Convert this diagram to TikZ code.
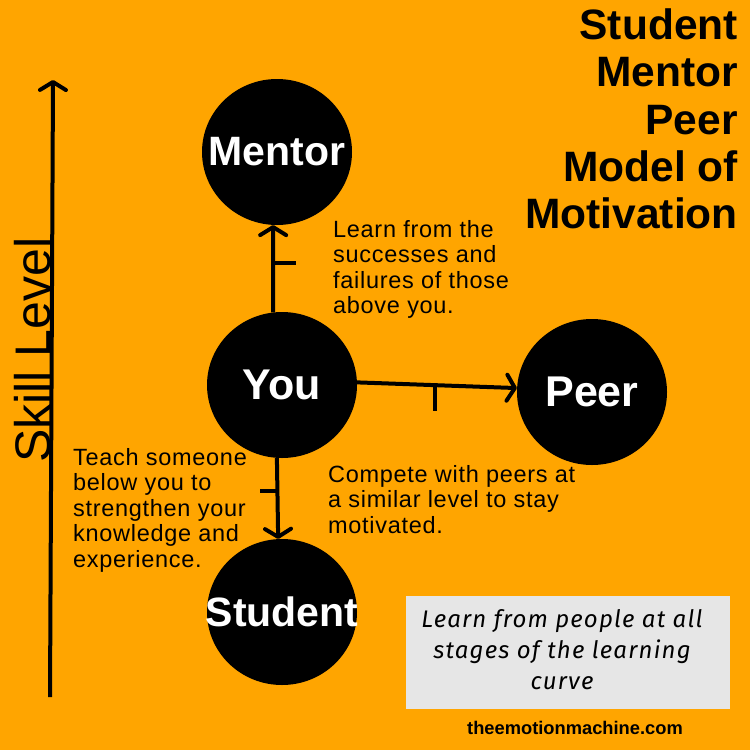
\documentclass[tikz,border=0pt]{standalone}
\usepackage{fontspec}
\setmainfont{Liberation Sans}
\newfontfamily\boxfont{Fira Sans}
\usetikzlibrary{arrows.meta,shapes.geometric}
\definecolor{bgorange}{HTML}{FFA500}
\definecolor{boxgray}{HTML}{E6E6E6}
\begin{document}
\begin{tikzpicture}[x=1pt,y=-1pt,
  bubble/.style={ellipse, fill=black, minimum width=150pt, minimum height=146pt, inner sep=0pt},
  bubbletext/.style={text=white, inner sep=0pt, font=\bfseries\fontsize{41}{41}\selectfont},
  bigbubbletext/.style={bubbletext, font=\bfseries\fontsize{43}{43}\selectfont},
  arr/.style={line width=4pt, -{Straight Barb[round,length=8pt,width=26pt]}},
  tickmark/.style={line width=4pt},
  lbl/.style={font=\fontsize{23.5}{25.5}\selectfont\addfontfeature{LetterSpace=3}, align=left, inner sep=0pt, anchor=north west},
  titletext/.style={font=\bfseries\fontsize{42.5}{47.5}\selectfont, align=right, inner sep=0pt, anchor=north east},
  boxtext/.style={font=\boxfont\itshape\fontsize{24}{31}\selectfont\addfontfeature{LetterSpace=5}, align=center, inner sep=0pt, anchor=north},
]
\useasboundingbox (0,0) rectangle (750,750);
\fill[bgorange] (0,0) rectangle (750,750);

% circles
\node[bubble, label={[bubbletext]center:Mentor}] (Mentor) at (277,152) {};
\node[bubble, label={[bigbubbletext]center:You}] (You) at (282,385) {};
\node[bubble, label={[bigbubbletext]center:Peer}] (Peer) at (592,392) {};
\node[bubble, label={[bubbletext]center:Student}] (Student) at (282,612) {};

% connectors
\draw[arr] (You.97) -- coordinate[pos=0.56] (tkM) (Mentor.267);
\draw[tickmark] (tkM) -- ++(23,0);
\draw[arr] (You.2) -- coordinate[pos=0.49] (tkP) (Peer.177);
\draw[tickmark] (tkP) -- ++(0,26);
\draw[arr] (You.266) -- coordinate[pos=0.41] (tkS) (Student.93);
\draw[tickmark] (tkS) -- ++(-17,0);

% skill level axis
\coordinate (skb) at (50,697);
\coordinate (skt) at (53,80);
\draw[arr] (skb) -- (skt);
\node[font=\fontsize{50}{50}\selectfont, rotate=90, anchor=base, inner sep=0pt] (skill) at (50,350) {Skill Level};

% title
\node[titletext] (title) at (738,8) {Student\\Mentor\\Peer\\Model of\\Motivation};

% labels
\node[lbl] (lm) at (333,220) {Learn from the\\successes and\\failures of those\\above you.};
\node[lbl] (lp) at (328,465) {Compete with peers at\\a similar level to stay\\motivated.};
\node[lbl] (ls) at (73,448) {Teach someone\\below you to\\strengthen your\\knowledge and\\experience.};

% box
\node[fill=boxgray, minimum width=324pt, minimum height=113pt, inner sep=0pt, anchor=north west] (box) at (406,596) {};
\node[boxtext] (boxt) at (562,609) {Learn from people at all\\stages of the learning\\curve};

% website
\node[font=\bfseries\fontsize{18.3}{20}\selectfont, anchor=base, inner sep=0pt] (web) at (575,734) {theemotionmachine.com};
\end{tikzpicture}
\end{document}
